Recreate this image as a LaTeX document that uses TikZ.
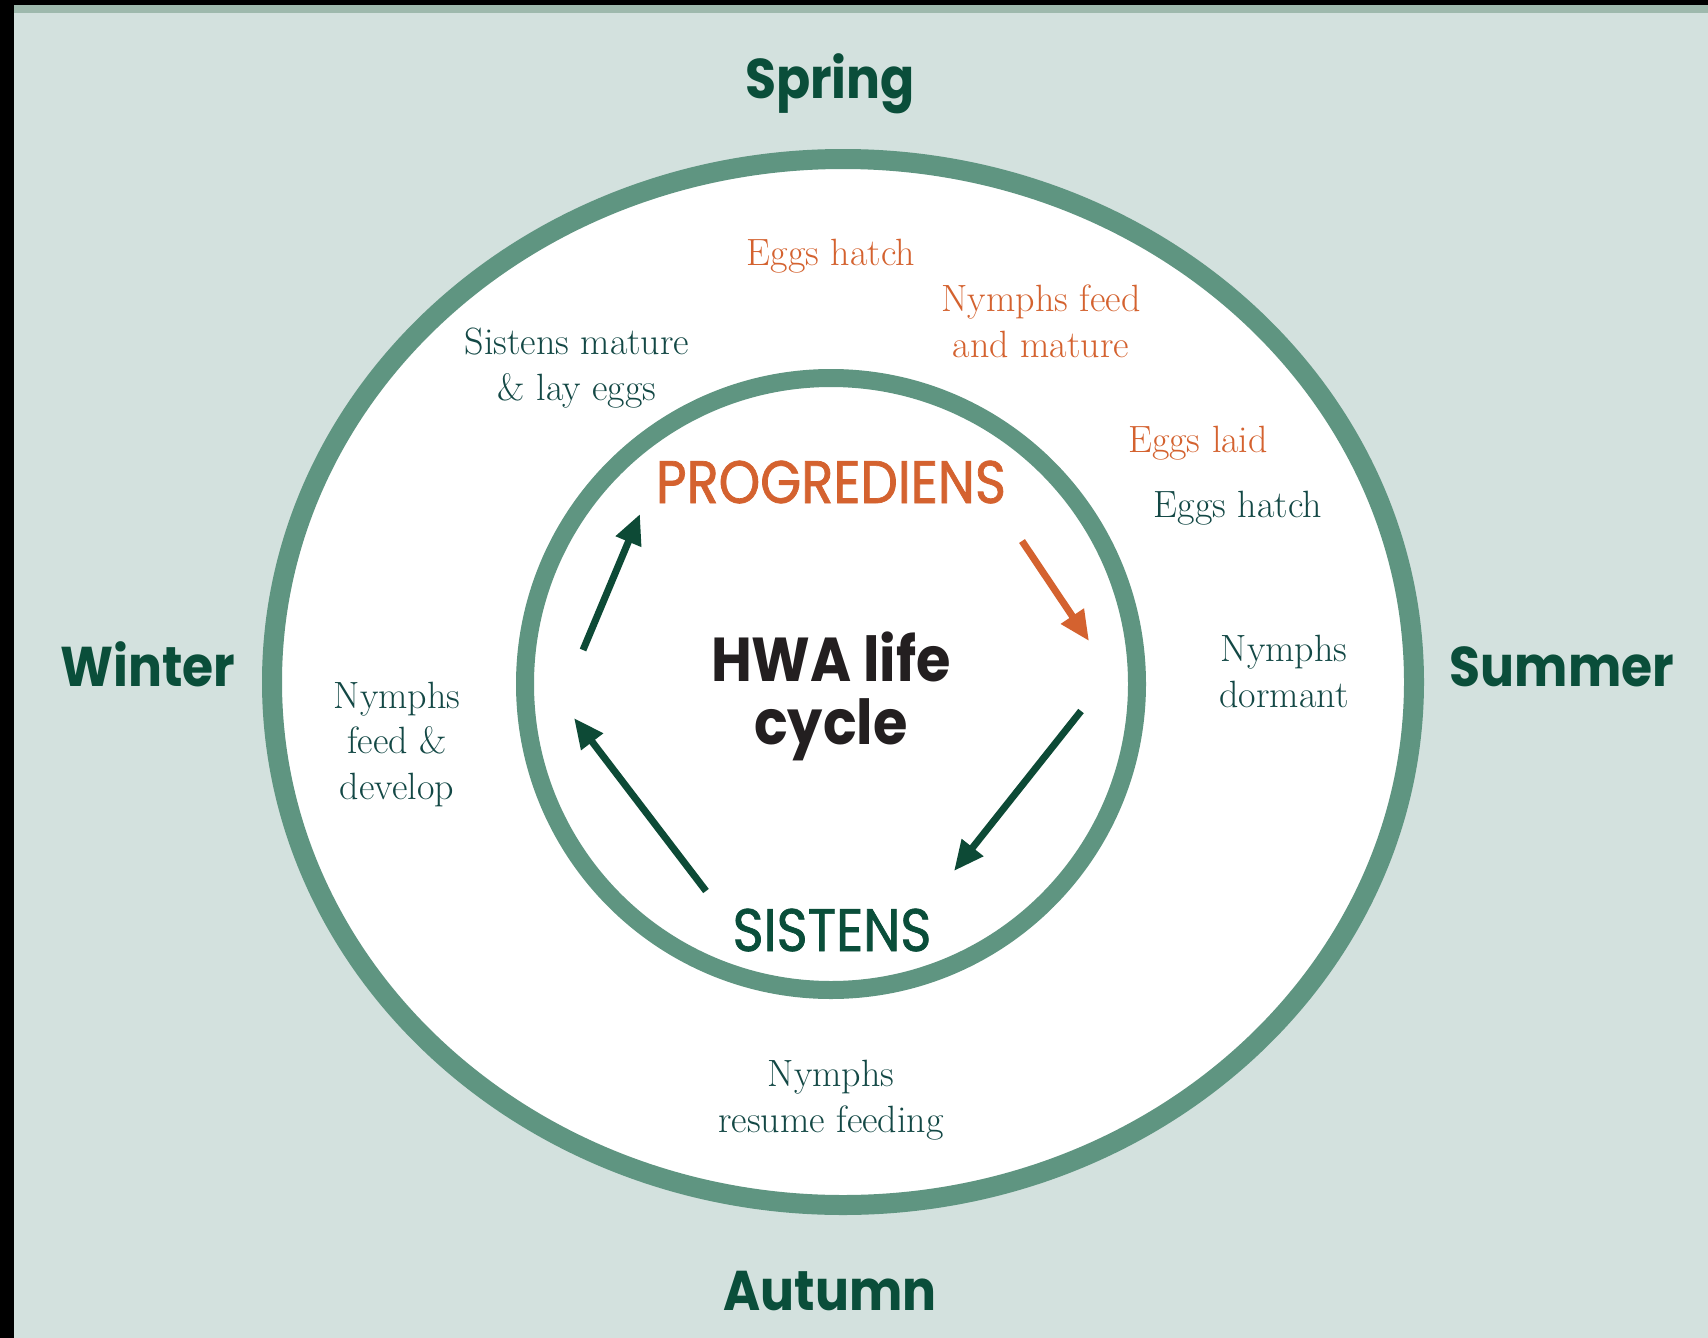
\documentclass[tikz,border=0pt]{standalone}
\usepackage{fontspec}
\usetikzlibrary{arrows.meta}

% geometric sans for headings, serif (Latin Modern) for the stage notes
\newfontfamily\geofont{Poppins}[FakeStretch=0.9]
\newfontfamily\geonarrow{Poppins}[FakeStretch=0.88, FakeBold=1.2]

\definecolor{bgcol}{HTML}{D3E1DE}
\definecolor{bandcol}{HTML}{9EB9AD}
\definecolor{ringcol}{HTML}{5F9581}
\definecolor{seasoncol}{HTML}{0A4E3A}
\definecolor{notecol}{HTML}{134845}
\definecolor{orangecol}{HTML}{D4622F}
\definecolor{arrowgreen}{HTML}{0D4A36}
\definecolor{titlecol}{HTML}{231F20}

\tikzset{
  season/.style={anchor=base, inner sep=0pt, text=seasoncol,
    font=\geofont\bfseries\fontsize{56}{60}\selectfont},
  note/.style={anchor=base, inner sep=0pt, align=center, text=notecol,
    font=\fontsize{38}{45.5}\selectfont},
  orangenote/.style={note, text=orangecol},
  stage/.style={anchor=base, inner sep=0pt,
    font=\geonarrow\fontsize{60}{64}\selectfont},
  ring/.style={draw=ringcol, fill=white},
  cyclearrow/.style={line width=7pt, draw=arrowgreen,
    -{Triangle[length=30pt,width=26pt]}},
}

\begin{document}
\begin{tikzpicture}[x=1pt,y=-1pt]
\useasboundingbox (0,0) rectangle (1708,1338);

% backdrop, frame edges and top band
\fill[bgcol] (0,0) rectangle (1708,1338);
\fill[black] (0,0) rectangle (14,1338);
\fill[black] (0,0) rectangle (1708,5);
\fill[bandcol] (14,5) rectangle (1708,13);

% seasonal ring and inner cycle ring
\path[ring, line width=20pt] (843,682) ellipse [x radius=571, y radius=523];
\path[ring, line width=18pt] (831,684) circle [radius=306];

% seasons
\node[season] (spring) at (830,99) {Spring};
\node[season] (summer) at (1562,686) {Summer};
\node[season] (autumn) at (830,1310) {Autumn};
\node[season] (winter) at (148,686) {Winter};

% events through the year (multi-line notes sit on their last baseline)
\node[orangenote] (hatchA) at (831,265) {Eggs hatch};
\node[orangenote] (feedA) at (1041,357) {Nymphs feed\\and mature};
\node[note] (mature) at (577,400) {Sistens mature\\\& lay eggs};
\node[orangenote] (laid) at (1198,452) {Eggs laid};
\node[note] (hatchB) at (1238,517) {Eggs hatch};
\node[note] (dormant) at (1284,707) {Nymphs\\dormant};
\node[note] (develop) at (397,799) {Nymphs\\feed \&\\develop};
\node[note] (resume) at (831,1132) {Nymphs\\resume feeding};

% generations and title
\node[stage, text=orangecol] (prog) at (831,503) {PROGREDIENS};
\node[stage, text=seasoncol] (sist) at (832,951) {SISTENS};
\node[anchor=base, inner sep=0pt, align=center, text=titlecol,
  font=\geofont\bfseries\fontsize{62}{63}\selectfont] (title) at (831,744) {HWA life\\cycle};

% cycle arrows
\coordinate (a1s) at (583,650);  \coordinate (a1e) at (640,514);
\coordinate (a2s) at (1022,541); \coordinate (a2e) at (1089,641);
\coordinate (a3s) at (1081,711); \coordinate (a3e) at (954,871);
\coordinate (a4s) at (706,891);  \coordinate (a4e) at (574,718);
\draw[cyclearrow] (a1s) -- (a1e);
\draw[cyclearrow, draw=orangecol] (a2s) -- (a2e);
\draw[cyclearrow] (a3s) -- (a3e);
\draw[cyclearrow] (a4s) -- (a4e);
\end{tikzpicture}
\end{document}
